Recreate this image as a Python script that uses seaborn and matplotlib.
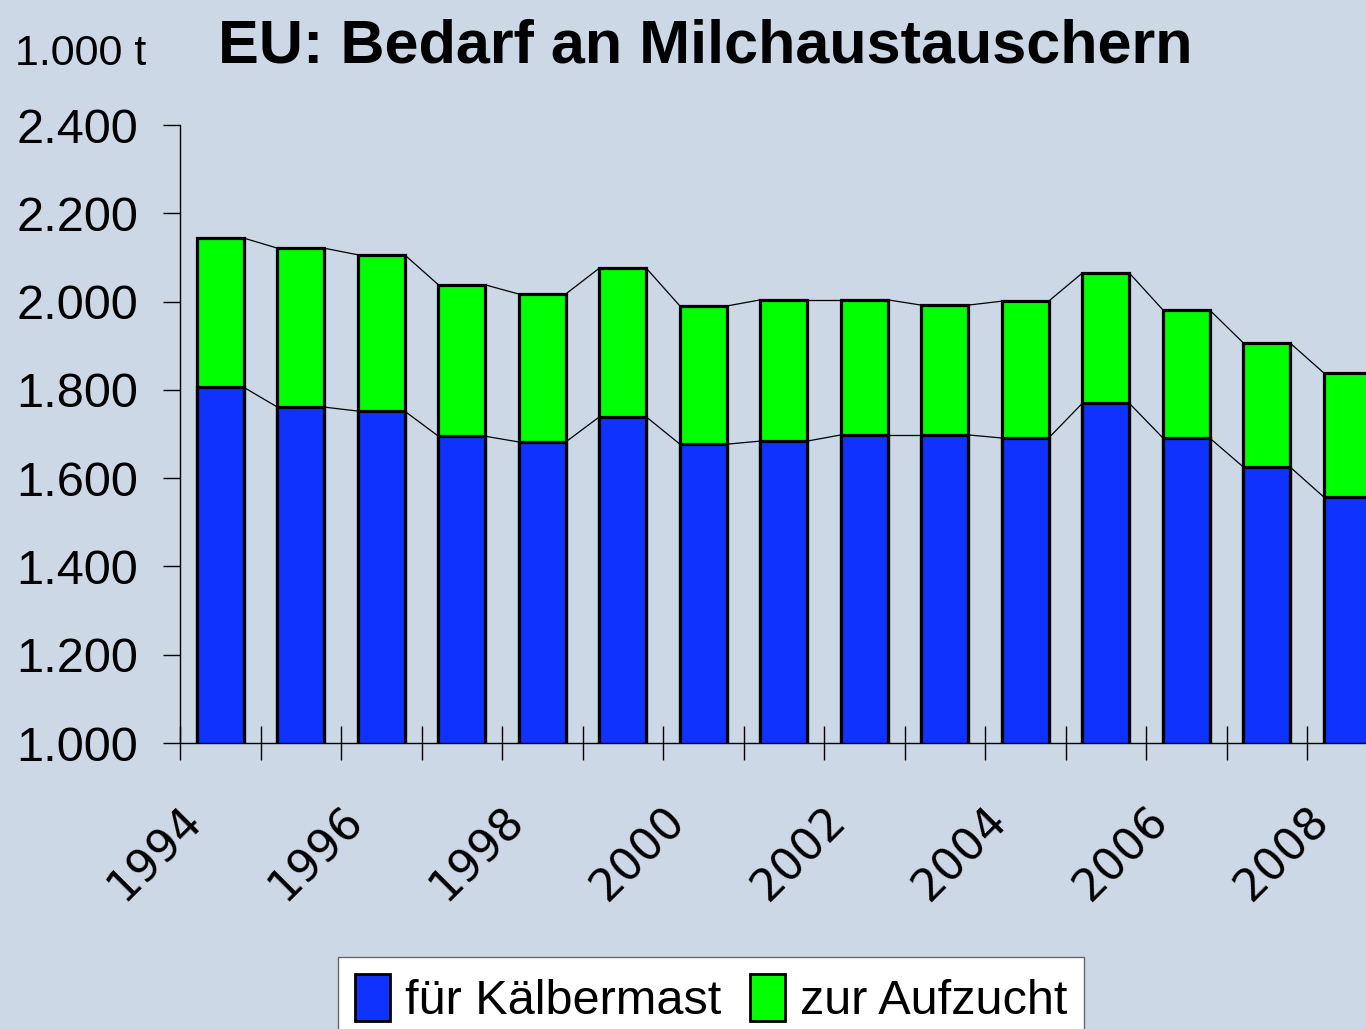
import matplotlib
matplotlib.use("Agg")

import matplotlib.pyplot as plt
import numpy as np
import pandas as pd
import seaborn as sns
from matplotlib.patches import Patch
from matplotlib.ticker import FuncFormatter

years = [1994, 1995, 1996, 1997, 1998, 1999, 2000, 2001, 2002, 2003, 2004, 2005, 2006, 2007, 2008]
kaelbermast = [1806, 1761, 1752, 1695, 1682, 1739, 1677, 1684, 1698, 1698, 1691, 1770, 1691, 1625, 1557]
gesamt = [2144, 2121, 2106, 2038, 2017, 2076, 1990, 2004, 2004, 1992, 2001, 2065, 1981, 1906, 1838]
y_ticks = [1000, 1200, 1400, 1600, 1800, 2000, 2200, 2400]

BG = "#CCD8E6"
BLUE = "#0F32FF"
GREEN = "#00FF00"

df = pd.DataFrame({"jahr": years, "kaelbermast": kaelbermast, "gesamt": gesamt})

sns.set_style("ticks")
plt.rcParams["font.family"] = ["Liberation Sans", "DejaVu Sans"]
plt.rcParams["text.color"] = "black"
plt.rcParams["xtick.color"] = "black"
plt.rcParams["ytick.color"] = "black"

fig = plt.figure(figsize=(13.66, 10.29), dpi=100, facecolor=BG)
ax = fig.add_axes([0.1318, 0.2779, 0.884, 0.6006], facecolor=BG)

bw = 0.58
sns.barplot(data=df, x="jahr", y="gesamt", color=GREEN, width=bw, saturation=1,
            edgecolor="black", linewidth=2.3, ax=ax)
sns.barplot(data=df, x="jahr", y="kaelbermast", color=BLUE, width=bw, saturation=1,
            edgecolor="black", linewidth=2.3, ax=ax)

# Verbindungslinien zwischen den Säulen (wie in Excel)
pos = np.arange(len(years))
for series in (gesamt, kaelbermast):
    for i in range(len(series) - 1):
        ax.plot([pos[i] + bw / 2, pos[i + 1] - bw / 2], [series[i], series[i + 1]],
                color="black", lw=0.9, zorder=1)

ax.set_xlim(-0.5, len(years) - 0.5)
ax.set_ylim(1000, 2400)
ax.set_yticks(y_ticks)
ax.yaxis.set_major_formatter(FuncFormatter(lambda v, p: f"{int(v):,}".replace(",", ".")))
ax.tick_params(axis="y", labelsize=35, length=12, width=1, pad=18, direction="out",
               labelcolor="black")

boundaries = pos - 0.5
ax.set_xticks(boundaries)
ax.set_xticklabels([str(y) if i % 2 == 0 else "" for i, y in enumerate(years)],
                   rotation=45, ha="right", rotation_mode="anchor",
                   fontsize=32, family=["DejaVu Sans"], color="black")
ax.tick_params(axis="x", length=24, width=1, direction="inout", pad=28)

ax.set_xlabel("")
ax.set_ylabel("")
for s in ("top", "right"):
    ax.spines[s].set_visible(False)
for s in ("left", "bottom"):
    ax.spines[s].set_linewidth(1)
    ax.spines[s].set_color("black")

fig.text(0.5165, 0.939, "EU: Bedarf an Milchaustauschern", ha="center", va="baseline",
         fontsize=44, fontweight="bold", color="black")
fig.text(0.011, 0.937, "1.000 t", ha="left", va="baseline", fontsize=31, color="black")

handles = [Patch(facecolor=BLUE, edgecolor="black", lw=2),
           Patch(facecolor=GREEN, edgecolor="black", lw=2)]
leg = fig.legend(handles, ["für Kälbermast", "zur Aufzucht"], loc="upper left",
                 bbox_to_anchor=(0.2474, 0.07), ncol=2, fontsize=35, frameon=True,
                 fancybox=False, framealpha=1, borderaxespad=0, handlelength=0.72,
                 handleheight=1.1, handletextpad=0.3, columnspacing=0.6, borderpad=0.35)
leg.get_frame().set_facecolor("white")
leg.get_frame().set_edgecolor("#666666")
leg.get_frame().set_linewidth(1)
for t in leg.get_texts():
    t.set_color("black")

fig.savefig("out.png", dpi=100, facecolor=BG)
